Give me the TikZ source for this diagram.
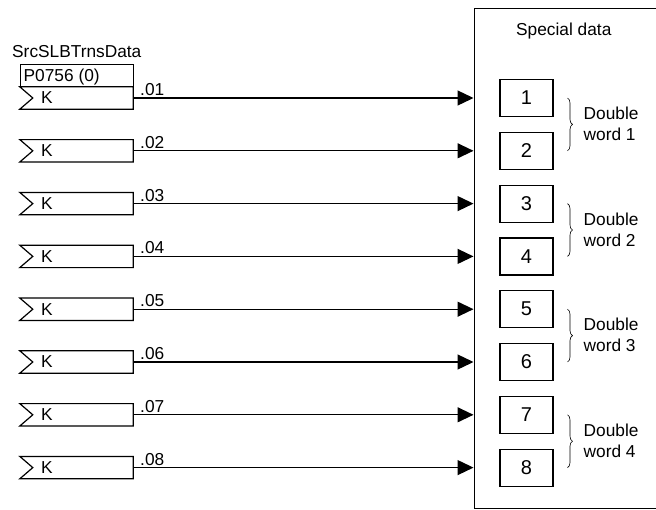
\documentclass[tikz,border=0pt]{standalone}
\usepackage{fontspec}
\setmainfont{Liberation Sans}
\usetikzlibrary{arrows.meta,calc,decorations.pathreplacing}
\begin{document}
\begin{tikzpicture}[x=1pt,y=-1pt,
  font=\fontsize{17.3}{20}\selectfont,
  kbody/.style={draw=none,minimum width=113pt,minimum height=22pt,inner sep=0pt},
  numbox/.style={draw,line width=1.2pt,minimum width=53pt,minimum height=37pt,inner sep=0pt,font=\fontsize{20}{22}\selectfont},
  arr/.style={line width=1.3pt,-{Triangle[length=16pt,width=15pt]}},
  brc/.style={decorate,decoration={brace,amplitude=5pt},line width=0.6pt},
  txt/.style={inner sep=0pt}]
\useasboundingbox (0,0) rectangle (656,509);
% main box
\node[draw,line width=1pt,minimum width=190pt,minimum height=500pt,inner sep=0pt,anchor=north west] (mb) at (473.5,7.5) {};
\node[txt,anchor=base west] (sd) at (516,35) {Special data};
% title
\node[txt,anchor=base west] (title) at (12,57) {SrcSLBTrnsData};
\node[draw,line width=1.2pt,minimum width=113pt,minimum height=22pt,inner sep=0pt,anchor=south west] (par) at (20,87) {};
\node[txt,anchor=base west] (parl) at (23.5,81) {P0756 (0)};
\foreach \i/\lab in {1/.01,2/.02,3/.03,4/.04,5/.05,6/.06,7/.07,8/.08}{
  \pgfmathsetmacro{\yy}{98+52.8*(\i-1)}
  \node[kbody] (k\i) at (76.5,\yy) {};
  \draw[line width=1.2pt] (k\i.north west) -- (k\i.north east) -- (k\i.south east) -- (k\i.south west) -- ($(k\i.west)+(13,0)$) -- cycle;
  \node[txt,anchor=west] (kl\i) at (41,\yy) {K};
  \node[numbox] (b\i) at (526.5,\yy) {\i};
  \draw[arr] (k\i.east) -- (k\i.east -| mb.west);
  \node[txt,anchor=base west] (lab\i) at (140,\yy-2.5) {\lab};
}
\foreach \a/\b/\n in {1/2/1,3/4/2,5/6/3,7/8/4}{
  \draw[brc] ($(b\a.center)+(41,0)$) -- ($(b\b.center)+(41,0)$);
  \node[txt,anchor=base west] (dw\n) at ($(b\a.center)!0.5!(b\b.center)+(57,-5)$) {Double};
  \node[txt,anchor=base west] (wd\n) at ($(b\a.center)!0.5!(b\b.center)+(57,16)$) {word \n};
}
\end{tikzpicture}
\end{document}
